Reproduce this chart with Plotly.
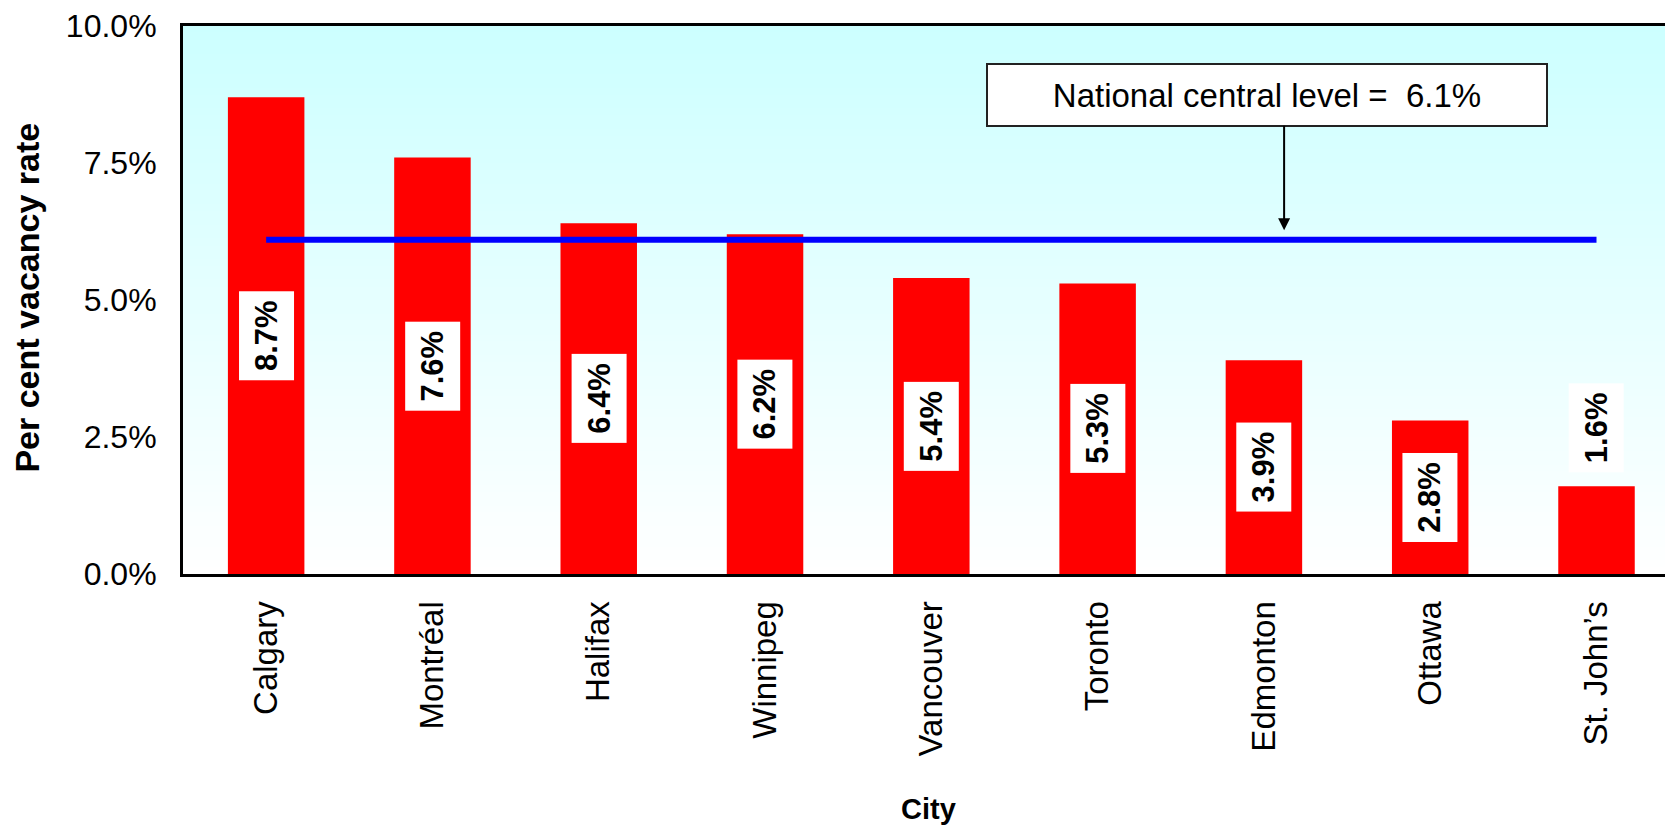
import plotly.graph_objects as go

# ---- data ----
cities = ["Calgary", "Montréal", "Halifax", "Winnipeg", "Vancouver",
          "Toronto", "Edmonton", "Ottawa", "St. John’s"]
vacancy = [8.7, 7.6, 6.4, 6.2, 5.4, 5.3, 3.9, 2.8, 1.6]
national_level = 6.1
y_ticks = [0, 2.5, 5, 7.5, 10]
y_tick_labels = [f"{t:.1f}%" for t in y_ticks]

FONT = "Liberation Sans, Arial, sans-serif"

fig = go.Figure()

# gradient plot background (cyan at top -> white at bottom)
n = 80
for i in range(n):
    t0 = i / n
    t1 = (i + 1) / n
    frac = (t0 + t1) / 2
    r = round(255 - (255 - 204) * frac)
    fig.add_shape(type="rect", xref="x domain", yref="y domain",
                  x0=0, x1=1, y0=t0, y1=min(1, t1 + 0.003),
                  fillcolor=f"rgb({r},255,255)", line_width=0, layer="below")

fig.add_bar(x=cities, y=vacancy, marker_color="#FF0000", width=0.46,
            marker_line_width=0, showlegend=False)

fig.add_scatter(x=[cities[0], cities[-1]], y=[national_level] * 2, mode="lines",
                line=dict(color="#0000FF", width=6), showlegend=False)

# value labels (white boxes, rotated text)
for c, v in zip(cities, vacancy):
    inside = v > 2.0
    fig.add_annotation(x=c, y=v / 2 if inside else v,
                       xanchor="center",
                       yanchor="middle" if inside else "bottom",
                       yshift=0 if inside else 13,
                       text=f"<b>{v:.1f}%</b>", textangle=-90,
                       font=dict(family=FONT, size=31, color="black"),
                       bgcolor="white", width=86, height=52, showarrow=False)

# national level callout
fig.add_annotation(xref="paper", yref="paper", x=0.7275, y=0.875,
                   xanchor="center", yanchor="middle",
                   text=f"National central level = &nbsp;{national_level:.1f}%",
                   font=dict(family=FONT, size=33, color="black"),
                   bgcolor="white", bordercolor="#222222", borderwidth=2,
                   width=556, height=58, showarrow=False)
fig.add_annotation(xref="paper", yref="paper", x=0.739, y=0.6275,
                   text="", showarrow=True, ax=0, ay=-106,
                   arrowhead=2, arrowsize=1.2, arrowwidth=2, arrowcolor="black")

# axis titles
fig.add_annotation(xref="paper", yref="paper", x=-0.1045, y=0.505,
                   xanchor="center", yanchor="middle",
                   text="<b>Per cent vacancy rate</b>", textangle=-90,
                   font=dict(family=FONT, size=34, color="black"), showarrow=False)
fig.add_annotation(xref="paper", yref="paper", x=0.5, y=-0.4286,
                   xanchor="center", yanchor="middle",
                   text="<b>City</b>",
                   font=dict(family=FONT, size=29, color="black"), showarrow=False)

fig.update_layout(
    width=1665, height=821,
    margin=dict(l=175, r=0, t=13, b=255),
    paper_bgcolor="white", plot_bgcolor="white",
    font=dict(family=FONT, color="black"),
    xaxis=dict(range=[-0.5, 8.46], showline=True, linecolor="black", linewidth=3,
               mirror=True, ticks="", tickangle=-90, ticklabelstandoff=11,
               tickfont=dict(family=FONT, size=33, color="black"),
               showgrid=False, zeroline=False),
    yaxis=dict(range=[0, 10], tickvals=y_ticks, ticktext=y_tick_labels,
               showline=True, linecolor="black", linewidth=3, ticks="",
               ticklabelstandoff=17, ticklabeloverflow="allow",
               showgrid=False, zeroline=False,
               tickfont=dict(family=FONT, size=32, color="black")),
)

fig.write_html("out.html")
